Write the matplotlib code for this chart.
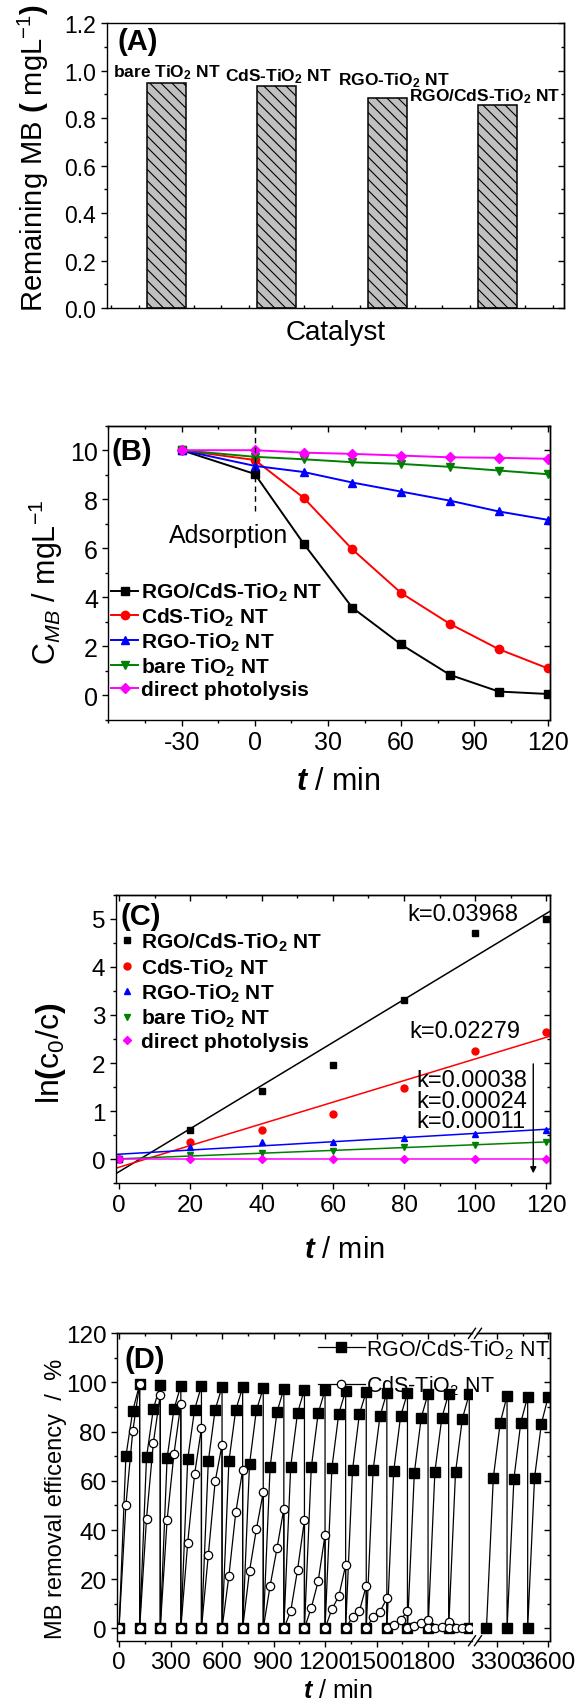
import numpy as np
import matplotlib
matplotlib.use("Agg")
import matplotlib.pyplot as plt
from matplotlib.ticker import MultipleLocator, NullFormatter, FixedLocator, NullLocator, FormatStrFormatter
from matplotlib.lines import Line2D

plt.rcParams['font.family'] = ['Liberation Sans', 'DejaVu Sans']
plt.rcParams['mathtext.fontset'] = 'custom'
plt.rcParams['mathtext.rm'] = 'Liberation Sans'
plt.rcParams['mathtext.it'] = 'Liberation Sans:italic'
plt.rcParams['mathtext.bf'] = 'Liberation Sans:bold'
plt.rcParams['mathtext.bfit'] = 'Liberation Sans:italic:bold'
plt.rcParams['axes.linewidth'] = 1.0
plt.rcParams['hatch.linewidth'] = 0.8
plt.rcParams['axes.unicode_minus'] = False

# ---------------- data ----------------
# (A) remaining MB
catalysts = [r"bare TiO$_\mathbf{2}$ NT", r"CdS-TiO$_\mathbf{2}$ NT",
             r"RGO-TiO$_\mathbf{2}$ NT", r"RGO/CdS-TiO$_\mathbf{2}$ NT"]
remaining = [0.948, 0.937, 0.884, 0.857]

# (B) C_MB vs t
series_names = [r"RGO/CdS-TiO$_\mathbf{2}$ NT", r"CdS-TiO$_\mathbf{2}$ NT",
                r"RGO-TiO$_\mathbf{2}$ NT", r"bare TiO$_\mathbf{2}$ NT", "direct photolysis"]
tB = [-30, 0, 20, 40, 60, 80, 100, 120]
B_rgo_cds = [10, 9.03, 6.19, 3.57, 2.07, 0.83, 0.15, 0.05]
B_cds = [10, 9.60, 8.06, 5.95, 4.17, 2.91, 1.88, 1.10]
B_rgo = [10, 9.36, 9.11, 8.68, 8.31, 7.94, 7.50, 7.16]
B_bare = [10, 9.73, 9.63, 9.51, 9.44, 9.32, 9.17, 9.02]
B_photo = [10, 10.0, 9.90, 9.85, 9.78, 9.71, 9.69, 9.65]

# (C) ln(c0/c) vs t
tC = [0, 20, 40, 60, 80, 100, 120]
C_rgo_cds = [0, 0.61, 1.42, 1.95, 3.32, 4.70, 4.99]
C_cds = [0, 0.36, 0.61, 0.95, 1.48, 2.25, 2.65]
C_rgo = [0, 0.26, 0.36, 0.36, 0.44, 0.53, 0.60]
C_bare = [0, 0.08, 0.13, 0.17, 0.25, 0.30, 0.36]
C_photo = [0, 0, 0, 0, 0, 0, 0]
k_labels = ["k=0.03968", "k=0.02279", "k=0.00038", "k=0.00024", "k=0.00011"]

# (D) cycling: each cycle lasts 120 min, samples every 40 min (start value 0)
D_step = 40
D_left_start = 0
D_right_start = 3240
D_rgo_left = [(70.0, 88.5, 99.3), (69.5, 89.3, 98.9), (69.3, 89.2, 98.7), (68.7, 89.0, 98.5),
              (67.9, 89.0, 98.2), (67.9, 88.9, 98.0), (66.7, 88.7, 97.7), (65.6, 88.0, 97.4),
              (65.8, 87.7, 97.1), (65.5, 87.5, 96.9), (65.3, 87.3, 96.7), (64.4, 87.1, 96.3),
              (64.3, 86.3, 95.9), (64.0, 86.2, 95.7), (63.1, 85.6, 95.5), (63.8, 85.5, 95.5),
              (63.4, 85.3, 95.3)]
D_rgo_right = [(61.3, 83.5, 94.6), (60.9, 83.7, 94.3), (61.2, 83.3, 94.3)]
D_cds_left = [(50.1, 80.2, 99.3), (44.6, 75.5, 95.0), (44.0, 71.0, 91.3), (34.8, 62.6, 81.4),
              (29.8, 59.8, 74.7), (21.4, 47.2, 64.3), (23.3, 40.3, 55.3), (17.3, 32.5, 48.7),
              (7.0, 23.9, 44.0), (8.4, 19.2, 38.0), (7.8, 13.1, 25.7), (4.7, 7.0, 17.3),
              (4.7, 6.8, 12.2), (1.5, 3.6, 6.9), (1.1, 2.0, 3.4), (0.3, 0.7, 2.7),
              (0.0, 0.0, 0.0)]
D_names = [r"RGO/CdS-TiO$_2$ NT", r"CdS-TiO$_2$ NT"]

colors = ['black', 'red', 'blue', 'green', 'magenta']
markers = ['s', 'o', '^', 'v', 'D']

# ---------------- helpers ----------------
W, H = 576, 1706
fig = plt.figure(figsize=(W / 100, H / 100), dpi=100)


def rect(x0, x1, y0, y1):
    return [x0 / W, 1 - y1 / H, (x1 - x0) / W, (y1 - y0) / H]


def base_ticks(ax, fs):
    ax.tick_params(which='both', direction='out', top=False, right=False,
                   labelsize=fs, width=1)
    ax.tick_params(which='major', length=4)
    ax.tick_params(which='minor', length=2.2)


def mirror_x(ax, maj, mnr):
    sx = ax.secondary_xaxis('top')
    sx.xaxis.set_major_locator(maj)
    sx.xaxis.set_minor_locator(mnr)
    sx.xaxis.set_major_formatter(NullFormatter())
    sx.tick_params(which='both', direction='in', width=1)
    sx.tick_params(which='major', length=4)
    sx.tick_params(which='minor', length=2.2)
    return sx


def mirror_y(ax, maj, mnr):
    sy = ax.secondary_yaxis('right')
    sy.yaxis.set_major_locator(maj)
    sy.yaxis.set_minor_locator(mnr)
    sy.yaxis.set_major_formatter(NullFormatter())
    sy.tick_params(which='both', direction='in', width=1)
    sy.tick_params(which='major', length=4)
    sy.tick_params(which='minor', length=2.2)
    return sy


def cycle_series(start, cycles, step, final_drop):
    t, v = [], []
    for i, vals in enumerate(cycles):
        t0 = start + 3 * step * i
        t += [t0, t0 + step, t0 + 2 * step, t0 + 3 * step]
        v += [0] + list(vals)
    if final_drop:
        t.append(t[-1])
        v.append(0)
    return t, v


# ---------------- (A) ----------------
axA = fig.add_axes(rect(106.5, 564, 24.3, 309))
xA = np.arange(1, len(catalysts) + 1)
axA.bar(xA, remaining, width=0.353, color='#c0c0c0', edgecolor='black',
        hatch='\\\\\\', linewidth=1.1, zorder=2)
label_offsets_px = [(0.5, 7), (1.5, 5), (7, 14), (-13, 4)]
for xi, v, name, (dx, dy) in zip(xA, remaining, catalysts, label_offsets_px):
    axA.annotate(name, (xi, v), xytext=(dx * 0.72, dy * 0.72), textcoords='offset points',
                 ha='center', va='baseline', fontsize=12.5, fontweight='bold')
axA.set_xlim(0.46, 4.6)
axA.set_ylim(0, 1.2)
base_ticks(axA, 16.5)
axA.xaxis.set_major_locator(NullLocator())
axA.xaxis.set_minor_locator(MultipleLocator(0.25))
axA.tick_params(axis='x', which='minor', direction='in', length=2.5)
axA.yaxis.set_major_locator(MultipleLocator(0.2))
axA.yaxis.set_minor_locator(MultipleLocator(0.1))
axA.yaxis.set_major_formatter(FormatStrFormatter('%.1f'))
mirror_y(axA, MultipleLocator(0.2), MultipleLocator(0.1))
axA.set_xlabel('Catalyst', fontsize=20)
axA.xaxis.set_label_coords(0.5, -0.085)
axA.xaxis.label.set_va('center')
axA.set_ylabel(r"Remaining MB $\mathbf{(}$ mgL$^{-1}$$\mathbf{)}$", fontsize=21)
axA.yaxis.set_label_coords(-0.16, 0.53)
axA.yaxis.label.set_va('center')
axA.text(0.023, 0.939, '(A)', transform=axA.transAxes, fontsize=21,
         fontweight='bold', ha='left', va='center')

# ---------------- (B) ----------------
axB = fig.add_axes(rect(108.4, 550, 426.7, 720.7))
B_all = [B_rgo_cds, B_cds, B_rgo, B_bare, B_photo]
for yv, c, m, lab in zip(B_all, colors, markers, series_names):
    axB.plot(tB, yv, color=c, marker=m, ms=6 if m != 'D' else 5.5, lw=1.4, label=lab)
axB.vlines(0, 7.5, 11, colors='black', linestyles=(0, (4, 3)), lw=1)
axB.text(-10.7, 6.52, 'Adsorption', ha='center', va='center', fontsize=18)
axB.set_xlim(-60, 121)
axB.set_ylim(-1, 11)
base_ticks(axB, 18)
axB.xaxis.set_major_locator(FixedLocator(np.arange(-30, 121, 30)))
axB.xaxis.set_minor_locator(MultipleLocator(15))
axB.yaxis.set_major_locator(MultipleLocator(2))
axB.yaxis.set_minor_locator(MultipleLocator(1))
mirror_x(axB, FixedLocator(np.arange(-30, 121, 30)), MultipleLocator(15))
mirror_y(axB, MultipleLocator(2), MultipleLocator(1))
axB.set_ylabel(r"C$_{MB}$ / mgL$^{-1}$", fontsize=22)
axB.yaxis.set_label_coords(-0.141, 0.472)
axB.yaxis.label.set_va('center')
axB.set_xlabel(r"$\mathbfit{t}$ / min", fontsize=22)
axB.xaxis.set_label_coords(0.52, -0.2075)
axB.xaxis.label.set_va('center')
axB.text(0.008, 0.915, '(B)', transform=axB.transAxes, fontsize=21,
         fontweight='bold', ha='left', va='center')
axB.legend(loc='upper left', bbox_to_anchor=(0.006, 0.472), frameon=False,
           prop={'size': 15, 'weight': 'bold'}, handlelength=1.31, handletextpad=0.13,
           labelspacing=0.12, borderpad=0, borderaxespad=0)

# ---------------- (C) ----------------
axC = fig.add_axes(rect(115.7, 550, 895.7, 1184.3))
C_all = [C_rgo_cds, C_cds, C_rgo, C_bare, C_photo]
xfit = np.array([-1.0, 121.0])
for yv, c, m, lab in zip(C_all, colors, markers, series_names):
    axC.plot(tC, yv, ls='none', color=c, marker=m, ms=5 if m != 'D' else 4.5, label=lab)
    kf, bf = np.polyfit(tC, yv, 1)
    axC.plot(xfit, kf * xfit + bf, color=c, lw=1.1)
axC.text(112.1, 5.09, k_labels[0], ha='right', va='center', fontsize=17)
axC.text(112.6, 2.66, k_labels[1], ha='right', va='center', fontsize=17)
for lab, yk in zip(k_labels[2:], [1.64, 1.22, 0.79]):
    axC.text(83.4, yk, lab, ha='left', va='center', fontsize=17)
axC.annotate('', xy=(116.3, -0.35), xytext=(116.3, 2.04),
             arrowprops=dict(arrowstyle='-|>', color='black', lw=1, mutation_scale=9))
axC.set_xlim(-1, 121)
axC.set_ylim(-0.5, 5.5)
base_ticks(axC, 17.5)
axC.xaxis.set_major_locator(MultipleLocator(20))
axC.xaxis.set_minor_locator(MultipleLocator(10))
axC.yaxis.set_major_locator(MultipleLocator(1))
axC.yaxis.set_minor_locator(MultipleLocator(0.5))
mirror_x(axC, MultipleLocator(20), MultipleLocator(10))
mirror_y(axC, MultipleLocator(1), MultipleLocator(0.5))
axC.set_ylabel(r"ln$\mathbf{(}$c$_0$/c$\mathbf{)}$", fontsize=23)
axC.yaxis.set_label_coords(-0.15, 0.455)
axC.yaxis.label.set_va('center')
axC.set_xlabel(r"$\mathbfit{t}$ / min", fontsize=21)
axC.xaxis.set_label_coords(0.526, -0.228)
axC.xaxis.label.set_va('center')
axC.text(0.012, 0.927, '(C)', transform=axC.transAxes, fontsize=21,
         fontweight='bold', ha='left', va='center')
axC.legend(loc='upper left', bbox_to_anchor=(0.0085, 0.875), frameon=False,
           prop={'size': 15, 'weight': 'bold'}, handlelength=0.7, handletextpad=0.35,
           labelspacing=0.15, borderpad=0, borderaxespad=0)

# ---------------- (D) broken axis ----------------
axD1 = fig.add_axes(rect(116.8, 472, 1334.3, 1641.7))
axD2 = fig.add_axes(rect(477, 550, 1334.3, 1641.7))
t1, v1 = cycle_series(D_left_start, D_rgo_left, D_step, True)
t2, v2 = cycle_series(D_left_start, D_cds_left, D_step, True)
t3, v3 = cycle_series(D_right_start, D_rgo_right, D_step, False)
sq = dict(color='black', marker='s', ms=6.5, lw=0.9, mfc='black', mec='black')
ci = dict(color='black', marker='o', ms=6, lw=0.9, mfc='white', mec='black', mew=0.9)
hD1, = axD1.plot(t1, v1, **sq)
hD2, = axD1.plot(t2, v2, **ci)
axD2.plot(t3, v3, **sq)
for ax in (axD1, axD2):
    ax.set_ylim(-5, 120)
axD1.set_xlim(-13, 2056)
axD2.set_xlim(3185, 3610)
base_ticks(axD1, 17.5)
base_ticks(axD2, 17.5)
axD1.spines['right'].set_visible(False)
axD2.spines['left'].set_visible(False)
axD1.xaxis.set_major_locator(MultipleLocator(300))
axD1.xaxis.set_minor_locator(MultipleLocator(150))
axD1.yaxis.set_major_locator(MultipleLocator(20))
axD1.yaxis.set_minor_locator(MultipleLocator(10))
axD2.xaxis.set_major_locator(FixedLocator([3300, 3600]))
axD2.xaxis.set_minor_locator(FixedLocator([3450]))
axD2.yaxis.set_major_locator(MultipleLocator(20))
axD2.tick_params(axis='y', which='both', left=False, labelleft=False)
mirror_x(axD1, MultipleLocator(300), MultipleLocator(150))
mirror_x(axD2, FixedLocator([3300, 3600]), FixedLocator([3450]))
mirror_y(axD2, MultipleLocator(20), MultipleLocator(10))
axD1.set_ylabel("MB removal efficency  /  %", fontsize=17)
axD1.yaxis.set_label_coords(-0.171, 0.465)
axD1.yaxis.label.set_va('center')
axD1.set_xlabel(r"$\mathbfit{t}$ / min", fontsize=18)
axD1.xaxis.set_label_coords(0.623, -0.159)
axD1.xaxis.label.set_va('center')
axD1.text(0.023, 0.916, '(D)', transform=axD1.transAxes, fontsize=21,
          fontweight='bold', ha='left', va='center')
fig.legend([hD1, hD2], D_names, loc='upper left', bbox_to_anchor=(317.8 / W, 1 - 1338 / H),
           frameon=False, fontsize=15.5, handlelength=2.2, handletextpad=0.05,
           labelspacing=0.6, borderpad=0, borderaxespad=0)

# break marks
for yb in (1334.3, 1641.7):
    for x0 in (468.5, 474.5):
        fig.add_artist(Line2D([x0 / W, (x0 + 7) / W], [1 - (yb + 5) / H, 1 - (yb - 5) / H],
                              color='black', lw=1))

fig.savefig('out.png', dpi=100)
